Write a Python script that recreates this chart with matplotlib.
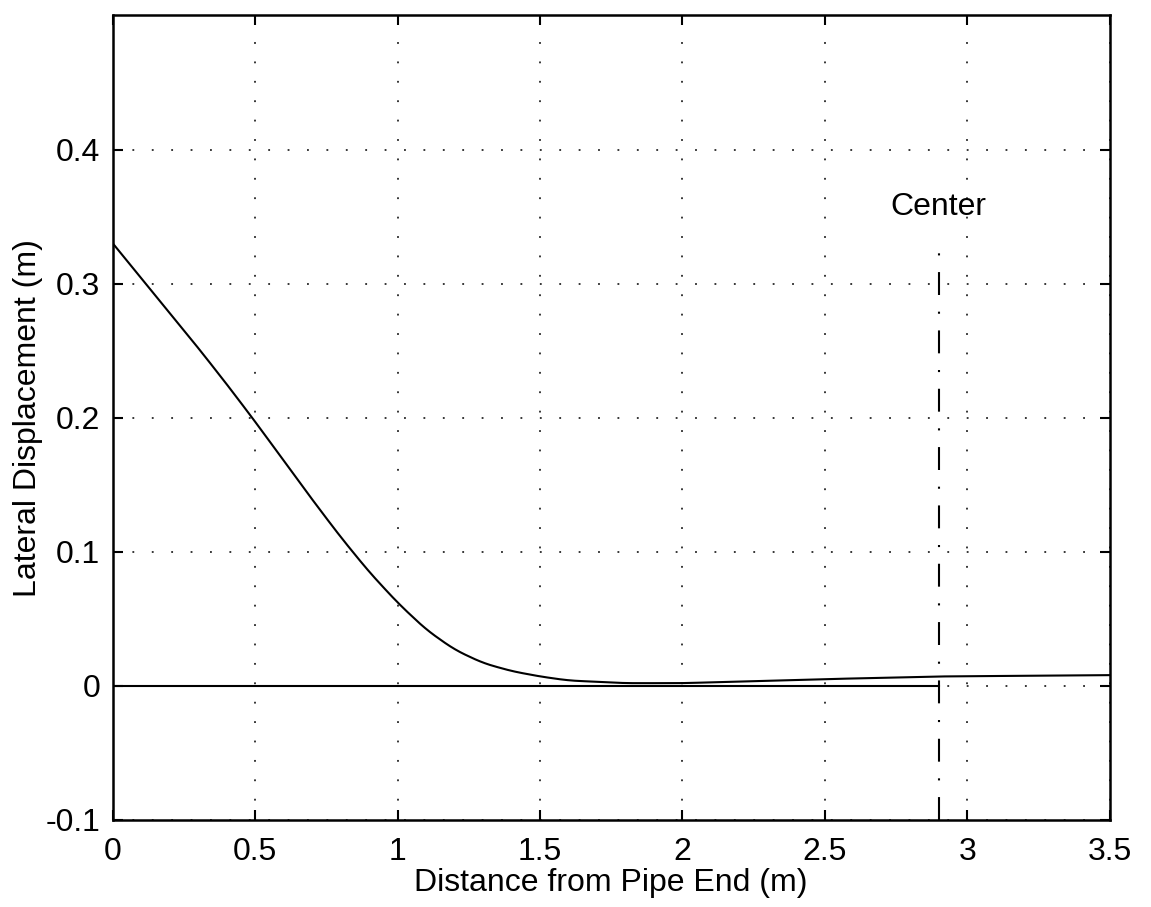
import numpy as np
import matplotlib
matplotlib.use("Agg")
import matplotlib.pyplot as plt

plt.rcParams['font.family'] = ['Liberation Sans', 'DejaVu Sans']

# displacement curve
dist = [0.0, 0.1, 0.2, 0.3, 0.4, 0.5, 0.6, 0.7, 0.8, 0.9, 1.0, 1.1, 1.2,
        1.3, 1.4, 1.5, 1.6, 1.7, 1.8, 2.0, 2.5, 2.9, 3.5]
disp = [0.330, 0.304, 0.278, 0.252, 0.225, 0.197, 0.168, 0.139, 0.111,
        0.085, 0.062, 0.042, 0.027, 0.017, 0.011, 0.007, 0.004, 0.003,
        0.002, 0.002, 0.005, 0.007, 0.008]

center_x = 2.9
center_top = 0.33
xticks = [0, 0.5, 1, 1.5, 2, 2.5, 3, 3.5]
xticklabels = ['0', '0.5', '1', '1.5', '2', '2.5', '3', '3.5']
yticks = [-0.1, 0, 0.1, 0.2, 0.3, 0.4]
yticklabels = ['-0.1', '0', '0.1', '0.2', '0.3', '0.4']

fig = plt.figure(figsize=(11.51, 9.07), dpi=100)
ax = fig.add_axes([0.098, 0.096, 0.866, 0.887])

# smooth the curve a little for drawing
xs = np.linspace(0, 3.5, 400)
ys = np.interp(xs, dist, disp)
k = np.ones(9) / 9
ys_s = np.convolve(np.pad(ys, 4, mode='edge'), k, mode='valid')
ys_s[:5] = ys[:5]
ax.plot(xs, ys_s, color='black', lw=1.5)

# zero reference up to the center
ax.plot([0, center_x], [0, 0], color='black', lw=1.5)
ax.plot([center_x, center_x], [-0.1, center_top], color='black', lw=1.5,
        linestyle=(0, (11, 8, 1, 8)))
ax.text(center_x, 0.357, 'Center', ha='center', va='center', fontsize=23)

ax.set_xlim(0, 3.5)
ax.set_ylim(-0.1, 0.5)
ax.set_xticks(xticks)
ax.set_xticklabels(xticklabels)
ax.set_yticks(yticks)
ax.set_yticklabels(yticklabels)
ax.grid(True, color='black', linestyle=(0, (1.2, 11.5)), lw=1.1)
ax.tick_params(direction='in', length=7, width=1.5, top=True, right=True,
               labelsize=23)
ax.tick_params(axis='x', pad=12)
ax.tick_params(axis='y', pad=9)
for sp in ax.spines.values():
    sp.set_linewidth(1.8)

ax.set_xlabel('Distance from Pipe End (m)', fontsize=23, labelpad=1)
ax.set_ylabel('Lateral Displacement (m)', fontsize=23, labelpad=2)

fig.savefig('out.png', dpi=100)
